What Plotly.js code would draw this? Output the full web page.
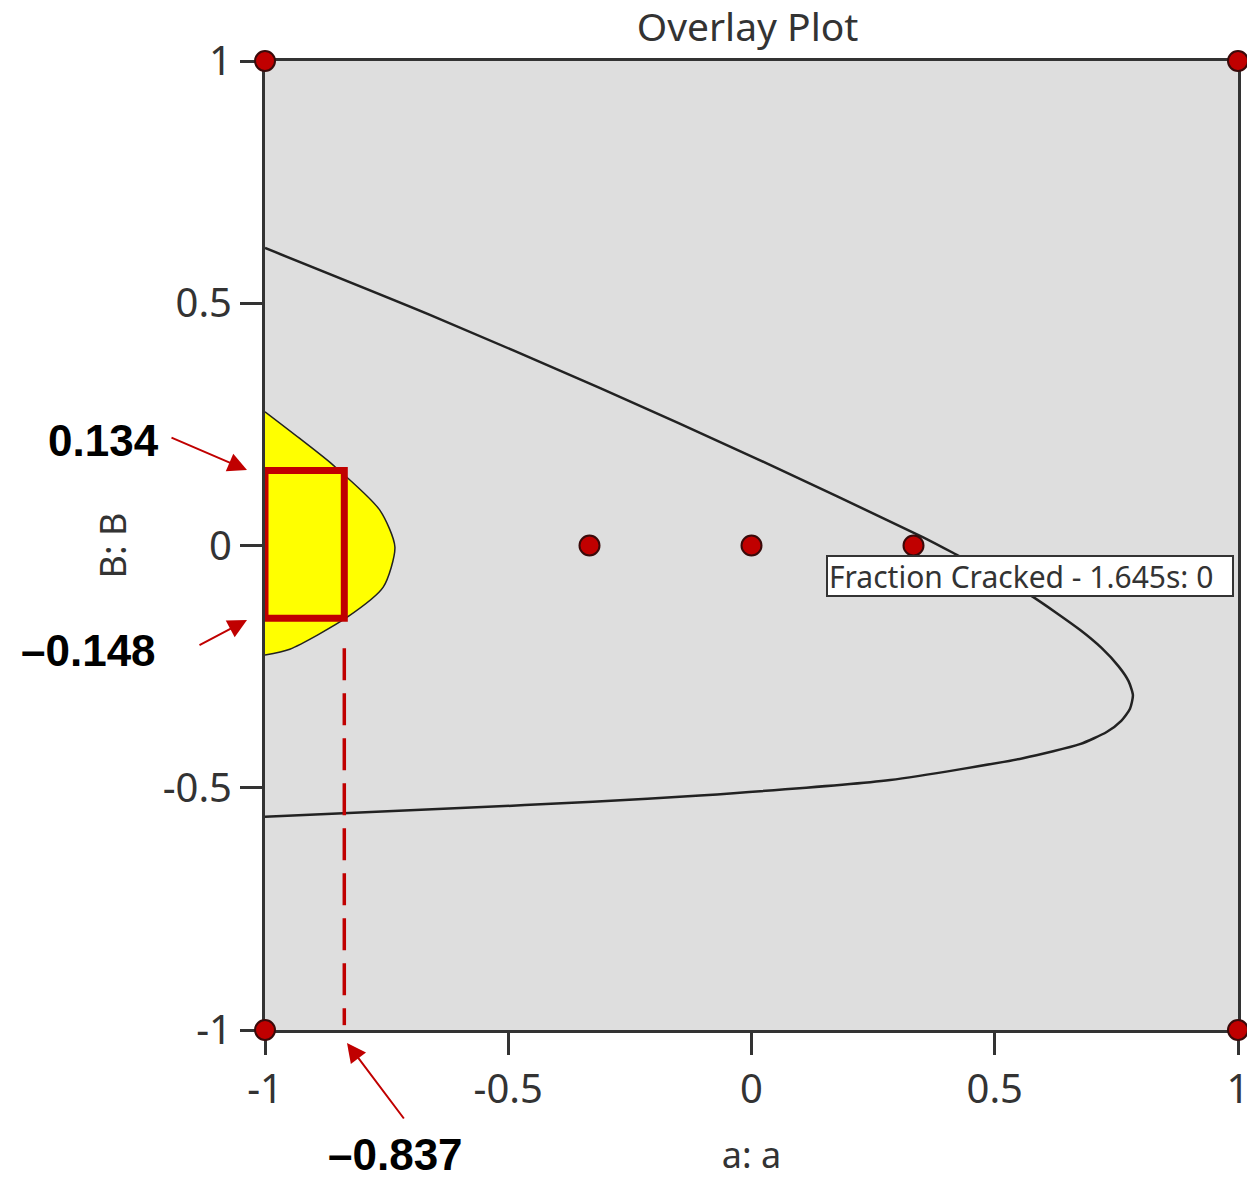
<!DOCTYPE html>
<html>
<head>
<meta charset="utf-8">
<script src="https://cdn.plot.ly/plotly-3.0.1.min.js"></script>
<style>html,body{margin:0;padding:0;background:#fff;}#chart{width:1247px;height:1179px;}</style>
</head>
<body>
<div id="chart"></div>
<script>
// Contour "Fraction Cracked - 1.645s: 0"
const contourX = [-1, -0.661, -0.311, 0.011, 0.353, 0.414, 0.572, 0.675, 0.720, 0.755, 0.775, 0.784, 0.778, 0.760, 0.730, 0.675, 0.558, 0.285, -0.106, -0.326, -0.599, -1];
const contourY = [0.614, 0.476, 0.325, 0.179, 0.017, -0.015, -0.102, -0.174, -0.212, -0.250, -0.280, -0.309, -0.337, -0.362, -0.385, -0.410, -0.439, -0.484, -0.516, -0.529, -0.542, -0.560];
// Yellow feasible (sweet spot) region
const regionX = [-1, -0.930, -0.860, -0.764, -0.733, -0.757, -0.831, -0.949, -1];
const regionY = [0.276, 0.222, 0.166, 0.073, -0.003, -0.086, -0.148, -0.214, -0.226];
// Design points
const designX = [-1, 1, -1, 1, -0.333, 0, 0.333];
const designY = [1, 1, -1, -1, 0, 0, 0];
// Highlighted box and dashed guide
const boxX = [-1, -0.837];
const boxY = [-0.150, 0.155];
const guideX = [-0.837, -0.837];
const guideY = [-0.212, -0.990];
// Callout values
const calloutText = ['0.134', '\u20130.148', '\u20130.837'];
// Ticks
const tickVals = [-1, -0.5, 0, 0.5, 1];
const tickText = ['-1', '-0.5', '0', '0.5', '1'];
const contourLabel = 'Fraction Cracked - 1.645s: 0';

const red = '#c00000';
const axisFont = {family: 'Noto Sans, Open Sans, sans-serif', size: 40, color: '#333'};

const traces = [
  {x: regionX, y: regionY, type: 'scatter', mode: 'lines', fill: 'toself', fillcolor: '#ffff00',
   line: {color: '#222', width: 1.5, shape: 'spline', smoothing: 0.7}, hoverinfo: 'skip', showlegend: false},
  {x: contourX, y: contourY, type: 'scatter', mode: 'lines',
   line: {color: '#222', width: 2.5, shape: 'spline', smoothing: 0.6}, hoverinfo: 'skip', showlegend: false},
  {x: guideX, y: guideY, type: 'scatter', mode: 'lines',
   line: {color: red, width: 3.5, dash: '32px,13px'}, hoverinfo: 'skip', showlegend: false},
  {x: [boxX[0], boxX[1], boxX[1], boxX[0], boxX[0]], y: [boxY[0], boxY[0], boxY[1], boxY[1], boxY[0]],
   type: 'scatter', mode: 'lines', line: {color: red, width: 7}, hoverinfo: 'skip', showlegend: false, cliponaxis: false},
  {x: designX, y: designY, type: 'scatter', mode: 'markers', cliponaxis: false,
   marker: {size: 20, color: red, line: {color: '#3a0a0a', width: 2}}, hoverinfo: 'skip', showlegend: false}
];

// pixel -> paper helpers (plot area: x 265..1238, y 61..1030)
function px2p(p) { return (p - 265) / 973; }
function py2p(p) { return (1030 - p) / 969; }
function px2x(p) { return (p - 265) / 486.5 - 1; }
function py2y(p) { return 1 - (p - 61) / 484.5; }

const arrowDefs = [
  {head: [247, 470], tail: [170, 437]},
  {head: [247, 620], tail: [198, 646]},
  {head: [347, 1043], tail: [405, 1120]}
];
const labelPos = [[103, 440], [88, 650], [395, 1154]];

const annotations = [];
arrowDefs.forEach(a => {
  annotations.push({
    x: px2p(a.head[0]), y: py2p(a.head[1]), xref: 'paper', yref: 'paper',
    ax: a.tail[0] - a.head[0], ay: a.tail[1] - a.head[1],
    text: '', showarrow: true, arrowhead: 2, arrowsize: 1.9, arrowwidth: 2, arrowcolor: red,
    standoff: 0, startstandoff: 0
  });
});
calloutText.forEach((t, i) => {
  annotations.push({
    x: px2p(labelPos[i][0]), y: py2p(labelPos[i][1]), xref: 'paper', yref: 'paper',
    text: '<b>' + t + '</b>', showarrow: false, xanchor: 'center', yanchor: 'middle',
    font: {family: 'Liberation Sans, Arial, sans-serif', size: 44, color: '#000'}
  });
});
annotations.push({
  x: px2x(826), y: py2y(576), xref: 'x', yref: 'y', xanchor: 'left', yanchor: 'middle',
  text: contourLabel, showarrow: false, align: 'left', width: 402, height: 36,
  bgcolor: '#ffffff', bordercolor: '#333', borderwidth: 2, borderpad: 1,
  font: {family: 'Noto Sans, Open Sans, sans-serif', size: 30, color: '#333'}
});

const axisCommon = {
  range: [-1, 1], tickvals: tickVals, ticktext: tickText, showgrid: false, zeroline: false,
  showline: true, linecolor: '#333', linewidth: 3, mirror: true,
  ticks: 'outside', ticklen: 22, tickwidth: 3, tickcolor: '#333',
  tickfont: axisFont, layer: 'below traces', fixedrange: true, ticklabeloverflow: 'allow'
};

const layout = {
  width: 1247, height: 1179,
  margin: {l: 265, r: 9, t: 61, b: 149},
  paper_bgcolor: '#ffffff', plot_bgcolor: '#dedede',
  title: {text: 'Overlay Plot', font: {family: 'Noto Sans, Open Sans, sans-serif', size: 39, color: '#333'},
          xref: 'paper', x: 0.496, xanchor: 'center', yref: 'container', y: 0.977, yanchor: 'middle'},
  xaxis: Object.assign({}, axisCommon, {title: {text: 'a: a', font: {family: 'Noto Sans, Open Sans, sans-serif', size: 36, color: '#333'}, standoff: 32}}),
  yaxis: Object.assign({}, axisCommon, {title: {text: 'B: B', font: {family: 'Noto Sans, Open Sans, sans-serif', size: 36, color: '#333'}, standoff: 26}}),
  annotations: annotations,
  showlegend: false
};

Plotly.newPlot('chart', traces, layout, {displayModeBar: false, staticPlot: true});
</script>
</body>
</html>
